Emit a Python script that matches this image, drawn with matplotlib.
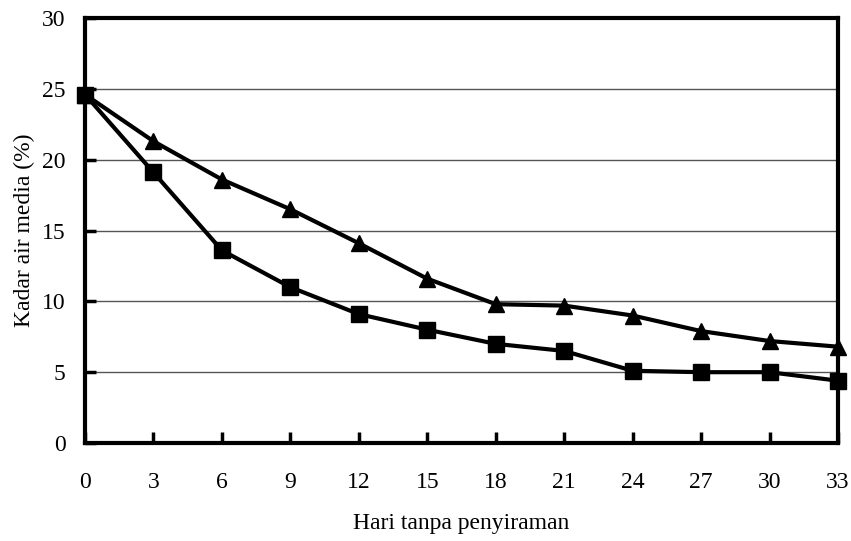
import matplotlib
matplotlib.use("Agg")
import matplotlib.pyplot as plt

# days without watering
days = [0, 3, 6, 9, 12, 15, 18, 21, 24, 27, 30, 33]

# media water content (%)
triangle_vals = [24.6, 21.3, 18.6, 16.5, 14.1, 11.6, 9.8, 9.7, 9.0, 7.9, 7.2, 6.8]
square_vals = [24.6, 19.1, 13.6, 11.0, 9.1, 8.0, 7.0, 6.5, 5.1, 5.0, 5.0, 4.4]

yticks = [0, 5, 10, 15, 20, 25, 30]
grid_levels = [5, 10, 15, 20, 25]

plt.rcParams['font.family'] = ['Liberation Serif', 'DejaVu Serif']

fig = plt.figure(figsize=(8.51, 5.41), dpi=100)
ax = fig.add_axes([0.0999, 0.1811, 0.8848, 0.7856])

for g in grid_levels:
    ax.axhline(g, color='#555555', lw=1.0, zorder=1)

ax.plot(days, triangle_vals, color='black', lw=3, marker='^', ms=11, zorder=3, clip_on=False)
ax.plot(days, square_vals, color='black', lw=3, marker='s', ms=11, zorder=3, clip_on=False)

ax.set_xlim(0, 33)
ax.set_ylim(0, 30)
ax.set_xticks(days)
ax.set_yticks(yticks)
ax.tick_params(direction='in', length=8, width=2.5, labelsize=17)
ax.tick_params(axis='x', pad=21)
ax.tick_params(axis='y', pad=14)

for s in ax.spines.values():
    s.set_linewidth(3)
    s.set_zorder(4)

ax.set_xlabel('Hari tanpa penyiraman', fontsize=17, labelpad=14)
ax.set_ylabel('Kadar air media (%)', fontsize=17, labelpad=5)

fig.savefig('out.png', dpi=100)
